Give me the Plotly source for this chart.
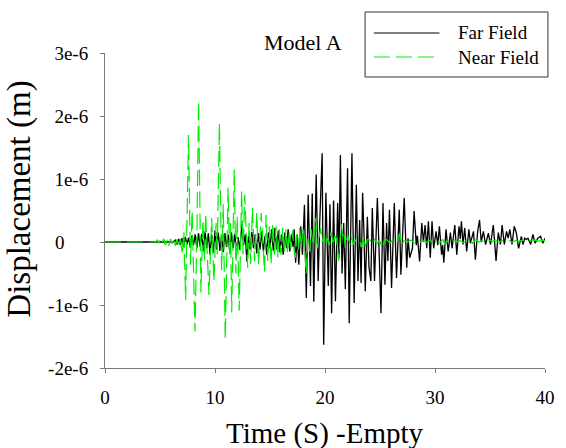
import plotly.graph_objects as go

# Far Field trace: time (s) and displacement (x1e-6 m) (turning points)
far_t = [0, 6.2, 6.4, 6.55, 6.7, 6.85, 7.0, 7.15, 7.3, 7.45, 7.6, 7.75, 7.9, 8.05, 8.2, 8.35, 8.5, 8.65,
         8.8, 8.95, 9.1, 9.25, 9.4, 9.55, 9.7, 9.85, 10.0, 10.15, 10.3, 10.45, 10.6, 10.75, 10.9, 11.05,
         11.2, 11.35, 11.5, 11.65, 11.8, 11.95, 12.1, 12.25, 12.45, 12.6, 12.75, 12.9, 13.05, 13.2, 13.35,
         13.5, 13.65, 13.8, 13.95, 14.1, 14.25, 14.4, 14.55, 14.7, 14.85, 15.0, 15.15, 15.3, 15.45, 15.6,
         15.75, 15.9, 16.05, 16.2, 16.35, 16.5, 16.65, 16.8, 16.95, 17.1, 17.2, 17.33, 17.47, 17.62, 17.8,
         17.95, 18.13, 18.3, 18.47, 18.68, 18.84, 18.98, 19.2, 19.38, 19.52, 19.74, 19.88, 20.08, 20.3,
         20.45, 20.6, 20.78, 20.95, 21.15, 21.27, 21.4, 21.55, 21.7, 21.85, 22.05, 22.2, 22.45, 22.65,
         22.85, 23.0, 23.15, 23.28, 23.42, 23.55, 23.66, 23.85, 24.0, 24.17, 24.3, 24.5, 24.76, 24.92,
         25.09, 25.27, 25.45, 25.6, 25.72, 25.86, 26.05, 26.3, 26.5, 26.75, 26.9, 27.2, 27.43, 27.55,
         27.7, 27.95, 28.1, 28.3, 28.4, 28.6, 28.8, 28.95, 29.1, 29.25, 29.4, 29.57, 29.73, 29.88, 30.1,
         30.25, 30.4, 30.6, 30.7, 30.8, 31.0, 31.2, 31.4, 31.55, 31.8, 31.98, 32.18, 32.3, 32.4, 32.55,
         32.7, 32.88, 33.08, 33.22, 33.5, 33.67, 33.88, 34.05, 34.2, 34.4, 34.6, 34.85, 35.05, 35.3,
         35.55, 35.75, 35.95, 36.1, 36.3, 36.5, 36.65, 36.8, 37.0, 37.2, 37.4, 37.6, 37.85, 38.0, 38.15,
         38.3, 38.45, 38.7, 38.9, 39.1, 39.35, 39.6, 39.8, 40.0]
far_u = [0, 0, 0.03, -0.04, 0.05, -0.05, 0.06, -0.07, 0.08, -0.04, 0.07, -0.09, 0.1, -0.05, 0.12, -0.1,
         0.14, -0.08, 0.13, -0.15, 0.17, -0.1, 0.14, -0.2, 0.12, -0.17, 0.18, -0.12, 0.15, -0.14, 0.1,
         -0.16, 0.14, -0.08, 0.12, -0.18, 0.15, -0.1, 0.13, -0.16, 0.08, -0.12, 0.29, -0.05, 0.12, -0.31,
         0.1, -0.12, 0.16, -0.1, 0.12, -0.18, 0.14, -0.12, 0.17, -0.15, 0.1, -0.2, 0.15, -0.1, 0.2, -0.14,
         0.22, -0.12, 0.18, -0.16, 0.12, -0.2, 0.15, -0.1, 0.2, -0.15, 0.12, -0.08, 0.2, -0.33, 0.12,
         -0.36, 0.25, -0.2, 0.59, -0.89, 0.75, -0.7, 0.77, -0.95, 1.07, -0.62, 0.3, 1.41, -1.63, 0.78,
         -0.7, 0.6, -1.13, 0.66, -0.94, 0.62, -0.25, 1.38, -0.5, 0.3, -0.75, 1.17, -1.29, 1.41, -0.97,
         0.91, -0.62, 0.35, -0.65, 0.78, 0.1, -0.78, 0.4, -0.4, -0.62, 0.54, -0.62, 0.7, -0.15, -1.13,
         0.62, -0.68, 0.3, -0.3, 0.51, -0.73, 0.62, -0.57, 0.51, -0.52, 0.7, -0.41, 0.06, -0.25, -0.1,
         0.49, -0.05, 0.1, -0.31, 0.3, 0.0, 0.27, -0.1, 0.33, -0.25, 0.33, -0.1, 0.17, -0.05, 0.25, -0.2,
         -0.05, -0.33, 0.2, -0.15, 0.15, -0.1, 0.27, -0.2, 0.25, 0.05, 0.33, -0.04, 0.22, -0.15, 0.2,
         -0.02, 0.17, -0.28, 0.17, 0.35, 0.0, 0.17, -0.04, 0.14, -0.04, 0.27, -0.3, 0.15, -0.04, 0.27,
         -0.04, 0.17, 0.06, 0.2, -0.04, 0.25, 0.14, -0.1, 0.09, -0.04, 0.06, 0.04, 0.06, -0.04, 0.12,
         -0.02, 0.06, 0.09, -0.02, 0.06]

# Near Field trace
near_t = [0, 4.6, 4.75, 4.9, 5.05, 5.2, 5.35, 5.5, 5.65, 5.8, 5.95, 6.1, 6.25, 6.4, 6.55, 6.7, 6.85,
          7.02, 7.17, 7.33, 7.59, 7.77, 7.92, 8.18, 8.35, 8.51, 8.72, 8.9, 9.05, 9.15, 9.45, 9.7, 9.9,
          10.1, 10.2, 10.4, 10.6, 10.75, 10.93, 11.19, 11.32, 11.4, 11.52, 11.75, 11.9, 12.02, 12.2,
          12.42, 12.55, 12.7, 12.97, 13.1, 13.25, 13.4, 13.6, 13.8, 13.95, 14.2, 14.5, 14.65, 14.8,
          14.95, 15.1, 15.25, 15.4, 15.55, 15.7, 15.85, 16.0, 16.15, 16.3, 16.45, 16.6, 16.75, 16.9,
          17.05, 17.2, 17.3, 17.45, 17.6, 17.7, 17.85, 17.98, 18.1, 18.28, 18.45, 18.6, 18.75, 18.9,
          19.17, 19.3, 19.6, 19.75, 19.9, 20.05, 20.2, 20.4, 20.55, 20.75, 20.9, 21.05, 21.25, 21.48,
          21.6, 21.7, 21.85, 22.05, 22.3, 22.45, 22.6, 22.85, 23.1, 23.3, 23.5, 23.66, 23.85, 24.1,
          24.3, 24.5, 24.75, 24.95, 25.2, 25.4, 25.6, 25.9, 26.15, 26.4, 26.6, 26.8, 26.95, 27.2, 27.5,
          27.8, 28.1, 28.4, 28.7, 29.0, 29.2, 29.5, 29.8, 30.1, 30.4, 30.7, 30.9, 31.2, 31.5, 31.8,
          32.0, 32.3, 32.6, 32.9, 33.2, 33.4, 33.7, 34.0, 34.3, 34.6, 34.9, 35.2, 35.5, 35.8, 36.1,
          36.4, 36.7, 37.0, 37.3, 37.6, 37.9, 38.2, 38.5, 38.8, 39.1, 39.4, 39.7, 40.0]
near_u = [0, 0, 0.03, -0.02, 0.06, 0.0, 0.05, -0.05, 0.04, -0.06, 0.05, -0.03, 0.06, -0.06, 0.04,
          -0.07, 0.05, -0.2, 0.17, -0.92, 1.70, -0.36, 0.49, -1.42, 0.1, 2.24, -0.8, 0.35, -0.3, 0.45,
          -0.84, 0.38, -0.62, 0.3, -0.2, 1.88, -0.45, 0.6, -1.54, 0.86, -0.2, 0.3, -1.12, 1.15, -0.5,
          0.4, -1.09, 0.8, -0.2, 0.75, -0.41, 0.3, -0.35, 0.54, -0.31, 0.46, -0.35, 0.46, -0.47, 0.43,
          -0.3, 0.25, -0.35, 0.3, -0.2, 0.25, -0.25, 0.2, -0.2, 0.22, -0.15, 0.2, -0.18, 0.15, -0.1,
          0.18, -0.15, -0.25, 0.12, -0.1, 0.22, -0.1, 0.22, 0.1, -0.5, 0.05, -0.15, 0.2, -0.05, 0.38,
          -0.1, 0.22, 0.0, 0.12, -0.05, 0.06, -0.05, 0.17, -0.05, 0.1, 0.05, -0.3, 0.28, 0.1, 0.17,
          -0.1, 0.12, -0.05, 0.07, -0.04, 0.05, 0.05, -0.08, 0.09, -0.07, 0.04, 0.03, -0.03, 0.04,
          -0.02, 0.03, -0.1, 0.02, 0.04, -0.02, 0.03, -0.01, 0.02, 0.14, -0.04, 0.02, 0.0, 0.03, -0.02,
          0.03, 0.0, 0.02, -0.01, 0.03, 0.0, 0.02, -0.02, 0.04, -0.03, 0.02, -0.01, 0.03, 0.0, 0.02,
          -0.01, 0.03, 0.05, -0.02, 0.03, 0.0, 0.02, -0.01, 0.03, 0.01, 0.03, 0.0, 0.02, 0.01, 0.03,
          0.0, 0.02, 0.01, 0.03, 0.01, 0.03, 0.02, 0.03, 0.01, 0.03, 0.02]

series_names = ["Far Field", "Near Field"]
x_ticks = [0, 10, 20, 30, 40]
y_ticks = [-2e-6, -1e-6, 0, 1e-6, 2e-6, 3e-6]
y_tick_text = ["-2e-6", "-1e-6", "0" + "\u00a0" * 5, "1e-6", "2e-6", "3e-6"]

SERIF = "Liberation Serif, Times New Roman, serif"
AXIS_GRAY = "#7a7a7a"
FAR_LINE = dict(color="#000000", width=1.3)
NEAR_LINE = dict(color="#00ee00", width=1.2, dash="16px,6px")

fig = go.Figure()
fig.add_trace(go.Scatter(x=far_t, y=[v * 1e-6 for v in far_u], mode="lines", name=series_names[0],
                         line=FAR_LINE, showlegend=False))
fig.add_trace(go.Scatter(x=near_t, y=[v * 1e-6 for v in near_u], mode="lines", name=series_names[1],
                         line=NEAR_LINE, showlegend=False))

# Legend box drawn as in the original (long line samples)
legend_shapes = [
    dict(type="rect", xref="paper", yref="paper", x0=0.5911, x1=1.0067, y0=0.9238, y1=1.1302,
         line=dict(color="#333333", width=1), fillcolor="white", layer="above"),
    dict(type="line", xref="paper", yref="paper", x0=0.6111, x1=0.76, y0=1.0635, y1=1.0635,
         line=dict(color="#555555", width=1.3), layer="above"),
    dict(type="line", xref="paper", yref="paper", x0=0.6111, x1=0.76, y0=0.9873, y1=0.9873,
         line=dict(color="#00ee00", width=1.2, dash="16px,6px"), layer="above"),
]
legend_texts = [
    dict(text=series_names[0], xref="paper", yref="paper", x=0.7978, y=1.0635, xanchor="left",
         yanchor="middle", showarrow=False, font=dict(family=SERIF, size=19)),
    dict(text=series_names[1], xref="paper", yref="paper", x=0.7978, y=0.9873, xanchor="left",
         yanchor="middle", showarrow=False, font=dict(family=SERIF, size=19)),
]

fig.update_layout(
    width=566, height=448,
    margin=dict(l=105, r=11, t=53, b=80),
    paper_bgcolor="white", plot_bgcolor="white",
    font=dict(family=SERIF, size=19, color="black"),
    showlegend=False,
    xaxis=dict(range=[0, 40], tickvals=x_ticks, ticks="outside", ticklen=4, tickcolor=AXIS_GRAY,
               showline=True, linecolor=AXIS_GRAY, linewidth=1, showgrid=False, zeroline=False,
               tickfont=dict(family=SERIF, size=19), ticklabelstandoff=8),
    yaxis=dict(range=[-2e-6, 3e-6], tickvals=y_ticks, ticktext=y_tick_text, ticks="outside",
               ticklen=4, tickcolor=AXIS_GRAY, showline=True, linecolor=AXIS_GRAY, linewidth=1,
               showgrid=False, zeroline=False, tickfont=dict(family=SERIF, size=19),
               ticklabelstandoff=8),
    shapes=legend_shapes,
    annotations=[
        dict(text="Model A", xref="paper", yref="paper", x=0.449, y=1.033, xanchor="center",
             yanchor="middle", showarrow=False, font=dict(family=SERIF, size=22)),
        dict(text="Time (S) -Empty", xref="paper", yref="paper", x=0.5, y=-0.208,
             xanchor="center", yanchor="middle", showarrow=False, font=dict(family=SERIF, size=29)),
        dict(text="Displacement (m)", xref="paper", yref="paper", x=-0.195, y=0.535,
             xanchor="center", yanchor="middle", textangle=-90, showarrow=False,
             font=dict(family=SERIF, size=33)),
    ] + legend_texts,
)

fig.write_html("out.html")
